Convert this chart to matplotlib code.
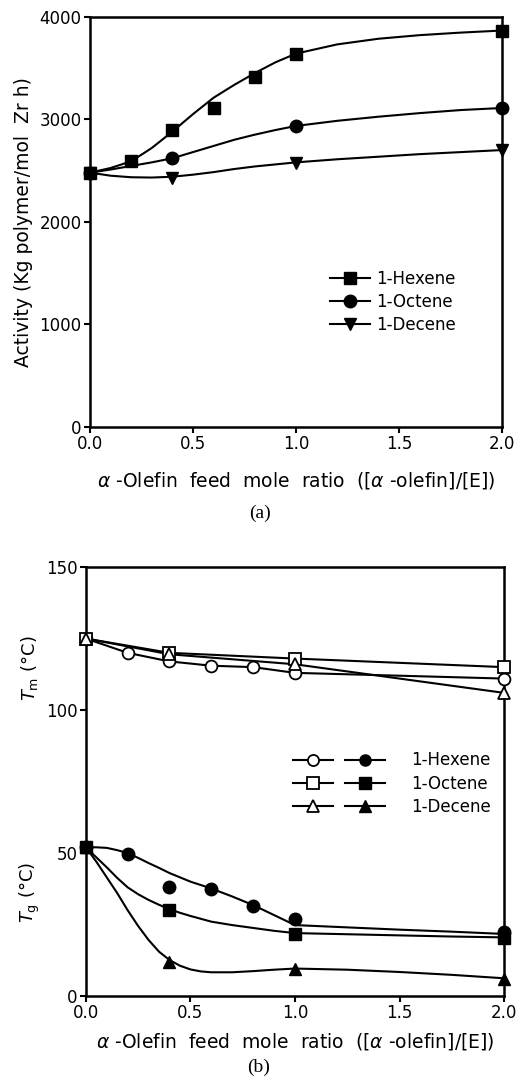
import matplotlib
matplotlib.use("Agg")
import matplotlib.pyplot as plt
from matplotlib.legend_handler import HandlerTuple

plt.rcParams['font.family'] = ['DejaVu Sans']
plt.rcParams['mathtext.fontset'] = 'dejavusans'

# ---- (a) activity data ----
ratio_hex = [0.0, 0.2, 0.4, 0.6, 0.8, 1.0, 2.0]
act_hex = [2480, 2595, 2900, 3110, 3415, 3640, 3865]
ratio_oct = [0.0, 0.4, 1.0, 2.0]
act_oct = [2480, 2620, 2935, 3110]
ratio_dec = [0.0, 0.4, 1.0, 2.0]
act_dec = [2480, 2430, 2575, 2700]

# fitted curves as drawn in the figure
fit_x_a = [0.0, 0.1, 0.2, 0.3, 0.4, 0.5, 0.6, 0.7, 0.8, 0.9, 1.0, 1.2, 1.4, 1.6, 1.8, 2.0]
fit_hex = [2480, 2525, 2590, 2720, 2880, 3050, 3210, 3335, 3450, 3555, 3640, 3730, 3785, 3820, 3845, 3865]
fit_oct = [2480, 2510, 2545, 2580, 2620, 2680, 2740, 2800, 2850, 2895, 2935, 2985, 3025, 3060, 3090, 3110]
fit_dec = [2480, 2450, 2435, 2432, 2440, 2460, 2485, 2515, 2540, 2560, 2580, 2610, 2635, 2660, 2680, 2700]

# ---- (b) thermal data ----
tm_x_hex = [0.0, 0.2, 0.4, 0.6, 0.8, 1.0, 2.0]
tm_hex = [125, 120, 117, 115.5, 115, 113, 111]
tm_x_oct = [0.0, 0.4, 1.0, 2.0]
tm_oct = [125, 120, 118, 115]
tm_x_dec = [0.0, 0.4, 1.0, 2.0]
tm_dec = [125, 119.5, 116, 106]

tg_x_hex = [0.0, 0.2, 0.4, 0.6, 0.8, 1.0, 2.0]
tg_hex = [52, 49.5, 38, 37.5, 31.5, 27, 22.5]
tg_x_oct = [0.0, 0.4, 1.0, 2.0]
tg_oct = [52, 30, 21.8, 20.2]
tg_x_dec = [0.0, 0.4, 1.0, 2.0]
tg_dec = [52, 12, 9.3, 5.8]

fit_x_b = [0.0, 0.05, 0.1, 0.15, 0.2, 0.25, 0.3, 0.35, 0.4, 0.45, 0.5, 0.55, 0.6,
           0.7, 0.8, 0.9, 1.0, 1.25, 1.5, 1.75, 2.0]
fit_tg_hex = [52, 52, 51.8, 51, 50, 48.3, 46.5, 44.8, 43, 41.5, 40, 38.8, 37.6,
              34.8, 31.8, 28.3, 24.8, 24, 23.2, 22.5, 21.7]
fit_tg_oct = [52, 48.5, 45, 41.3, 38, 35.6, 33.6, 31.9, 30.4, 29.1, 28, 27, 26,
              24.8, 23.8, 22.8, 22, 21.6, 21.2, 20.8, 20.5]
fit_tg_dec = [52, 47, 41.5, 36, 30, 24.5, 19.6, 15.5, 12.6, 10.6, 9.3, 8.6, 8.3,
              8.3, 8.7, 9.2, 9.6, 9.2, 8.4, 7.4, 6.2]

labels = ['1-Hexene', '1-Octene', '1-Decene']

fig = plt.figure(figsize=(5.17, 10.77), dpi=100)
tick_fs = 12
lab_fs = 13.5

def style_axes(ax):
    for s in ax.spines.values():
        s.set_linewidth(1.8)
    ax.tick_params(direction='out', length=4, width=1.5, labelsize=tick_fs, pad=2)
    ax.set_xlim(0, 2.0)
    ax.set_xticks([0.0, 0.5, 1.0, 1.5, 2.0])
    ax.set_xticklabels(['0.0', '0.5', '1.0', '1.5', '2.0'])

# panel (a)
ax1 = fig.add_axes([0.174, 0.6035, 0.797, 0.381])
ax1.plot(fit_x_a, fit_hex, color='black', lw=1.5)
ax1.plot(fit_x_a, fit_oct, color='black', lw=1.5)
ax1.plot(fit_x_a, fit_dec, color='black', lw=1.5)
ax1.plot(ratio_hex, act_hex, 's', color='black', ms=8.5, clip_on=False, zorder=5)
ax1.plot(ratio_oct, act_oct, 'o', color='black', ms=9, clip_on=False, zorder=5)
ax1.plot(ratio_dec, act_dec, 'v', color='black', ms=8.5, clip_on=False, zorder=5)
ax1.set_ylim(0, 4000)
ax1.set_yticks([0, 1000, 2000, 3000, 4000])
style_axes(ax1)
ax1.set_ylabel('Activity (Kg polymer/mol  Zr h)', fontsize=lab_fs, labelpad=5)
ax1.set_xlabel(r'$\alpha$ -Olefin  feed  mole  ratio  ([$\alpha$ -olefin]/[E])', fontsize=lab_fs, labelpad=12)
h1 = [plt.Line2D([], [], color='black', marker=m, ms=ms, lw=1.5) for m, ms in [('s', 8), ('o', 9), ('v', 8)]]
ax1.legend(h1, labels, loc='upper left', bbox_to_anchor=(0.545, 0.42), frameon=False,
           fontsize=12, handlelength=2.4, handletextpad=0.4, labelspacing=0.3)
fig.text(0.503, 0.523, '(a)', ha='center', va='center', family='Liberation Serif', fontsize=14)

# panel (b)
ax2 = fig.add_axes([0.166, 0.0752, 0.809, 0.3983])
ax2.plot(tm_x_hex, tm_hex, color='black', lw=1.5)
ax2.plot(tm_x_oct, tm_oct, color='black', lw=1.5)
ax2.plot(tm_x_dec, tm_dec, color='black', lw=1.5)
ax2.plot(fit_x_b, fit_tg_hex, color='black', lw=1.5)
ax2.plot(fit_x_b, fit_tg_oct, color='black', lw=1.5)
ax2.plot(fit_x_b, fit_tg_dec, color='black', lw=1.5)
ax2.plot(tm_x_hex, tm_hex, 'o', mfc='white', mec='black', mew=1.3, ms=8.5, clip_on=False, zorder=5)
ax2.plot(tm_x_oct, tm_oct, 's', mfc='white', mec='black', mew=1.3, ms=8.5, clip_on=False, zorder=5)
ax2.plot(tm_x_dec, tm_dec, '^', mfc='white', mec='black', mew=1.3, ms=8.5, clip_on=False, zorder=5)
ax2.plot(tg_x_hex, tg_hex, 'o', color='black', ms=9, clip_on=False, zorder=5)
ax2.plot(tg_x_oct, tg_oct, 's', color='black', ms=8.5, clip_on=False, zorder=5)
ax2.plot(tg_x_dec, tg_dec, '^', color='black', ms=8.5, clip_on=False, zorder=5)
ax2.set_ylim(0, 150)
ax2.set_yticks([0, 50, 100, 150])
style_axes(ax2)
ax2.set_xlabel(r'$\alpha$ -Olefin  feed  mole  ratio  ([$\alpha$ -olefin]/[E])', fontsize=lab_fs, labelpad=6)
fig.text(0.058, 0.380, r'$T_\mathrm{m}$ (°C)', rotation=90, ha='center', va='center', fontsize=13)
fig.text(0.058, 0.171, r'$T_\mathrm{g}$ (°C)', rotation=90, ha='center', va='center', fontsize=13)
open_h = [plt.Line2D([], [], color='black', marker=m, mfc='white', mew=1.3, ms=8, lw=1.5) for m in ['o', 's', '^']]
fill_h = [plt.Line2D([], [], color='black', marker=m, ms=8, lw=1.5) for m in ['o', 's', '^']]
ax2.legend(list(zip(open_h, fill_h)), labels, handler_map={tuple: HandlerTuple(ndivide=None, pad=0.7)},
           loc='upper left', bbox_to_anchor=(0.46, 0.605), frameon=False, fontsize=12,
           handlelength=5.5, handletextpad=1.6, labelspacing=0.32)
fig.text(0.5, 0.009, '(b)', ha='center', va='center', family='Liberation Serif', fontsize=14)

fig.savefig('out.png', dpi=100)
